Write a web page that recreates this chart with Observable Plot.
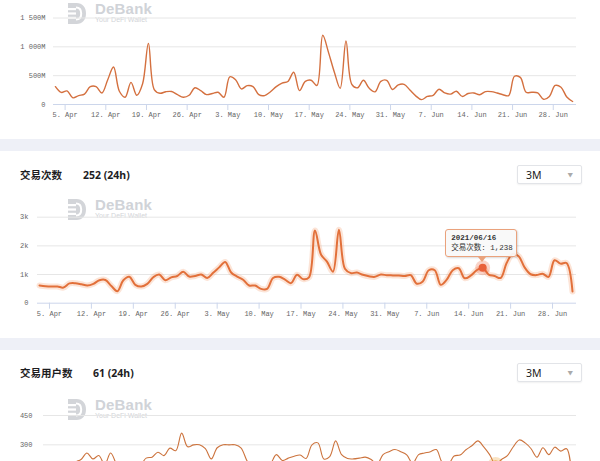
<!DOCTYPE html>
<html><head><meta charset="utf-8">
<script src="https://cdn.jsdelivr.net/npm/d3@7"></script>
<script src="https://cdn.jsdelivr.net/npm/@observablehq/plot@0.6"></script>
<style>
html,body{margin:0;padding:0;}
body{width:600px;height:461px;overflow:hidden;background:#fff;position:relative;font-family:"Noto Sans CJK SC","Noto Sans",sans-serif;}
.band{position:absolute;left:0;width:600px;height:12px;background:#eef0f7;}
.wm{position:absolute;left:0;width:200px;height:26px;}
.wm svg{position:absolute;left:67px;top:0;}
.wm .t{position:absolute;left:95px;top:-1px;font-family:"Liberation Sans",Arial,sans-serif;font-weight:700;font-size:15px;line-height:15px;color:#d0d3d8;letter-spacing:0.2px;}
.wm .s{position:absolute;left:95px;top:14px;font-family:"Liberation Sans",Arial,sans-serif;font-size:7px;line-height:7px;color:#d2d4d8;}
.hdr{position:absolute;font-size:10.5px;line-height:14px;color:#1d1d1f;font-weight:600;}
.num{position:absolute;font-family:"Noto Sans","Noto Sans CJK SC",sans-serif;font-size:10.5px;line-height:14px;font-weight:700;color:#1d1d1f;}
.dd{position:absolute;left:517px;width:65px;height:19px;box-sizing:border-box;border:1px solid #e2e4e8;border-radius:2px;background:#fff;box-shadow:0 1px 2px rgba(0,0,0,0.06);}
.dd .v{position:absolute;left:8px;top:2px;font-family:"Noto Sans",sans-serif;font-size:10.5px;line-height:14px;color:#222;}
.dd .c{position:absolute;right:8px;top:4px;font-size:5.5px;line-height:10px;color:#aaa;}
.chart{position:absolute;left:0;}
#tip{position:absolute;width:72px;height:28px;box-sizing:border-box;border:1px solid #eaa27c;border-radius:3px;background:rgba(249,249,249,0.94);box-shadow:1px 1px 2px rgba(0,0,0,0.15);font-family:"Liberation Mono","Noto Sans CJK SC",monospace;font-size:7.5px;line-height:10px;padding:3px 0 0 5px;color:#333;white-space:nowrap;}
#tipArrow{position:absolute;width:0;height:0;border-left:4px solid transparent;border-right:4px solid transparent;border-top:5px solid #eaa27c;}
</style></head><body>
<script>
// ---------- data ----------
const firstDay = "2021-04-03T08:00:00Z";
const xDomain = ["2021-04-03", "2021-07-02"];

// 交易额 (M)
const volumeM = [
  310,210,235,115,155,180,310,310,200,430,
  650,230,126,384,160,360,1060,260,195,222,
  225,170,125,160,290,240,172,190,212,126,
  480,430,270,327,310,170,155,220,310,370,
  400,560,240,400,420,330,1200,900,560,280,
  1100,350,290,420,280,220,400,420,260,340,
  350,250,150,85,140,160,265,200,180,230,
  140,190,200,170,224,224,200,170,155,490,
  470,212,212,200,90,140,330,300,130,52
];
// 交易次数
const txCount = [
  617,590,580,585,545,690,698,660,617,675,
  800,810,600,420,800,920,640,580,675,907,
  1000,800,900,950,1100,930,950,1000,880,1060,
  1250,1440,1070,930,820,617,617,500,500,880,
  920,820,700,990,840,900,2540,1700,1450,1100,
  2560,1200,1050,1070,990,940,920,1000,975,970,
  965,950,980,680,760,1150,1150,640,820,1150,
  1220,870,960,1150,1238,1000,950,880,1400,1720,
  1640,1250,1010,980,1030,920,1500,1380,1400,410
];
// 交易用户数
const users = [
  180,160,175,150,170,210,225,258,228,245,
  200,258,200,150,140,160,190,232,237,262,
  245,283,270,360,290,300,300,280,228,285,
  300,300,300,285,220,170,150,160,200,250,
  220,232,242,248,230,300,310,228,240,320,
  250,230,228,232,237,225,200,250,265,276,
  265,249,205,250,258,265,276,210,200,243,
  248,275,295,320,290,250,200,225,245,290,
  325,310,280,237,285,250,288,268,280,61
];

const txLatest = "252";
const usersLatest = "61";
const txTitle = "交易次数";
const usersTitle = "交易用户数";
const rangeLabel = "3M";
const txSeriesName = "交易次数";
const txHoverIndex = 74;
const usersHoverIndex = 76;

const xTickDates = ["2021-04-05","2021-04-12","2021-04-19","2021-04-26","2021-05-03","2021-05-10","2021-05-17","2021-05-24","2021-05-31","2021-06-07","2021-06-14","2021-06-21","2021-06-28"];
const xTickLabels = ["5. Apr","12. Apr","19. Apr","26. Apr","3. May","10. May","17. May","24. May","31. May","7. Jun","14. Jun","21. Jun","28. Jun"];

const volTicks = [0,500,1000,1500];
const volTickLabels = ["0","500M","1 000M","1 500M"];
const txTicks = [0,1000,2000,3000];
const txTickLabels = ["0","1k","2k","3k"];
const userTicks = [0,150,300,450];
const userTickLabels = ["0","150","300","450"];

// ---------- helpers ----------
const t0 = new Date(firstDay).getTime();
const dates = volumeM.map((_, i) => new Date(t0 + i * 864e5));
const tickDateObjs = xTickDates.map(s => new Date(s));
const xLabel = new Map(tickDateObjs.map((d, i) => [+d, xTickLabels[i]]));

function makeChart(cfg) {
  const data = cfg.values.map((v, i) => ({date: dates[i], value: v}));
  const marks = [
    Plot.gridY({ticks: cfg.yTicks.filter(t => t > 0), stroke: "#e6e6e6", strokeOpacity: 1}),
    Plot.ruleY([0], {stroke: "#ccd6eb"})
  ];
  if (cfg.xAxis !== false) {
    marks.push(Plot.axisX({ticks: tickDateObjs, tickFormat: d => xLabel.get(+d), tickSize: 6, tickPadding: 2, stroke: "#ccd6eb", fill: "#666", label: null}));
  } else {
    marks.push(Plot.axisX({ticks: [], label: null}));
  }
  const shown = cfg.labelTicks || cfg.yTicks;
  marks.push(Plot.axisY({ticks: shown, tickFormat: d => cfg.yLabels[cfg.yTicks.indexOf(d)], tickSize: 0, tickPadding: cfg.pad, fill: "#666", label: null}));
  if (cfg.halo) marks.push(Plot.line(data, {x: "date", y: "value", curve: "catmull-rom", stroke: cfg.halo, strokeWidth: 6, strokeOpacity: 0.3}));
  marks.push(Plot.line(data, {x: "date", y: "value", curve: "catmull-rom", stroke: cfg.color, strokeWidth: cfg.width}));
  if (cfg.hover != null) {
    const h = [data[cfg.hover]];
    marks.push(Plot.dot(h, {x: "date", y: "value", r: 7.5, fill: cfg.dotColor, fillOpacity: 0.28}));
    marks.push(Plot.dot(h, {x: "date", y: "value", r: 4, fill: cfg.dotColor}));
  }
  return Plot.plot({
    width: 600, height: cfg.height,
    marginTop: cfg.mt, marginBottom: cfg.mb, marginLeft: cfg.ml, marginRight: 24,
    x: {type: "utc", domain: xDomain.map(s => new Date(s))},
    y: {domain: cfg.yDomain},
    style: {fontFamily: '"Liberation Mono", monospace', fontSize: "7px", background: "transparent", overflow: "visible"},
    marks
  });
}

function logo(top) {
  const w = document.createElement("div");
  w.className = "wm"; w.style.top = top + "px";
  w.innerHTML = '<svg width="20" height="23" viewBox="0 0 20 23"><path d="M1 1H9.5C15.5 1 19 5.5 19 11.5S15.5 22 9.5 22H1Z" fill="#d3d5d9"/><rect x="0" y="6" width="9" height="2.2" fill="#fff"/><rect x="0" y="10.4" width="9" height="2.2" fill="#fff"/><rect x="0" y="14.8" width="9" height="2.2" fill="#fff"/><path d="M9 5.5C12.5 5.5 14.2 8 14.2 11.5S12.5 17.5 9 17.5" stroke="#fff" stroke-width="2" fill="none"/></svg><div class="t">DeBank</div><div class="s">Your DeFi Wallet</div>';
  document.body.appendChild(w);
}
function add(html) { const d = document.createElement("div"); d.innerHTML = html; const el = d.firstChild; document.body.appendChild(el); return el; }

// bands & headers
add('<div class="band" style="top:139px"></div>');
add('<div class="band" style="top:338px"></div>');
add(`<div class="hdr" style="left:20px;top:168px">${txTitle}</div>`);
add(`<div class="num" style="left:83px;top:168px">${txLatest} (24h)</div>`);
add(`<div class="dd" style="top:165px"><span class="v">${rangeLabel}</span><span class="c">▼</span></div>`);
add(`<div class="hdr" style="left:20px;top:366px">${usersTitle}</div>`);
add(`<div class="num" style="left:93px;top:366px">${usersLatest} (24h)</div>`);
add(`<div class="dd" style="top:363px"><span class="v">${rangeLabel}</span><span class="c">▼</span></div>`);

logo(2); logo(198); logo(398);

// chart 1
const c1 = makeChart({values: volumeM, yTicks: volTicks, yLabels: volTickLabels, yDomain: [0, 1500],
  height: 125, mt: 17.5, mb: 21, ml: 53, pad: 8, color: "#d4703f", width: 1.4});
const w1 = document.createElement("div"); w1.className = "chart"; w1.style.top = "0px"; w1.appendChild(c1); document.body.appendChild(w1);

// chart 2
const top2 = 195;
const c2 = makeChart({values: txCount, yTicks: txTicks, yLabels: txTickLabels, yDomain: [0, 3000],
  height: 125, mt: 21.7, mb: 17.3, ml: 37, pad: 9, color: "#e2703a", width: 2, halo: "#f6a77c",
  hover: txHoverIndex, dotColor: "#e8603a"});
const w2 = document.createElement("div"); w2.className = "chart"; w2.style.top = top2 + "px"; w2.appendChild(c2); document.body.appendChild(w2);

// chart 3 (its lower part lies below the window, as in the reference)
const top3 = 390;
const c3 = makeChart({values: users, yTicks: userTicks, yLabels: userTickLabels, labelTicks: [300, 450], yDomain: [0, 450],
  height: 140, mt: 25, mb: 27, ml: 43, pad: 11, color: "#cc733d", width: 1.1, xAxis: false,
  hover: usersHoverIndex, dotColor: "#eb9a2c"});
const w3 = document.createElement("div"); w3.className = "chart"; w3.style.top = top3 + "px";
w3.style.height = (461 - top3) + "px"; w3.style.overflow = "hidden";
w3.appendChild(c3); document.body.appendChild(w3);

// tooltip on chart 2, positioned from the scales
const hd = dates[txHoverIndex];
const px = c2.scale("x").apply(hd);
const py = c2.scale("y").apply(txCount[txHoverIndex]) + top2;
const pad2 = n => String(n).padStart(2, "0");
const dateStr = `${hd.getUTCFullYear()}/${pad2(hd.getUTCMonth() + 1)}/${pad2(hd.getUTCDate())}`;
const tip = add(`<div id="tip"><b>${dateStr}</b><br>${txSeriesName}: ${d3.format(",")(txCount[txHoverIndex])}</div>`);
tip.style.left = (px - 37) + "px";
tip.style.top = (py - 38) + "px";
const arrow = add('<div id="tipArrow"></div>');
arrow.style.left = (px - 4) + "px";
arrow.style.top = (py - 10.5) + "px";
</script>
</body></html>
